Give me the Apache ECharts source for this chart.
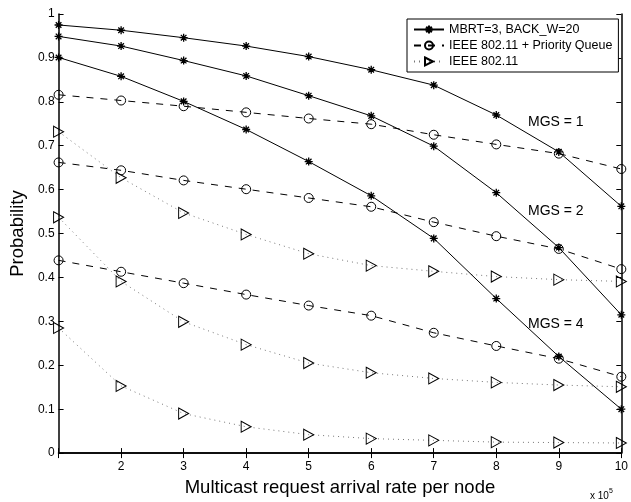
<!DOCTYPE html>
<html>
<head>
<meta charset="utf-8">
<script src="https://cdn.jsdelivr.net/npm/echarts@6/dist/echarts.min.js"></script>
<style>
  html, body { margin: 0; padding: 0; background: #fff; }
  #chart { width: 631px; height: 502px; }
</style>
</head>
<body>
<div id="chart"></div>
<script>
// Arrival rate (x 10^5)
const rates = [1, 2, 3, 4, 5, 6, 7, 8, 9, 10];

// MBRT=3, BACK_W=20
const mbrtMgs1 = [0.975, 0.963, 0.946, 0.927, 0.903, 0.873, 0.838, 0.770, 0.686, 0.562];
const mbrtMgs2 = [0.949, 0.927, 0.894, 0.859, 0.814, 0.768, 0.699, 0.593, 0.468, 0.315];
const mbrtMgs4 = [0.901, 0.858, 0.801, 0.737, 0.664, 0.586, 0.489, 0.352, 0.220, 0.100];

// IEEE 802.11 + Priority Queue
const pqMgs1 = [0.816, 0.803, 0.790, 0.776, 0.762, 0.749, 0.725, 0.703, 0.682, 0.647];
const pqMgs2 = [0.662, 0.644, 0.621, 0.601, 0.581, 0.561, 0.526, 0.494, 0.465, 0.419];
const pqMgs4 = [0.439, 0.413, 0.387, 0.361, 0.336, 0.313, 0.274, 0.244, 0.215, 0.174];

// IEEE 802.11
const dcfMgs1 = [0.732, 0.627, 0.547, 0.498, 0.454, 0.427, 0.414, 0.402, 0.395, 0.391];
const dcfMgs2 = [0.537, 0.391, 0.299, 0.247, 0.205, 0.183, 0.170, 0.161, 0.155, 0.151];
const dcfMgs4 = [0.285, 0.153, 0.090, 0.060, 0.042, 0.033, 0.029, 0.025, 0.024, 0.023];

const methodNames = ['MBRT=3, BACK_W=20', 'IEEE 802.11 + Priority Queue', 'IEEE 802.11'];
const groupLabels = ['MGS = 1', 'MGS = 2', 'MGS = 4'];

const FONT = 'Liberation Sans';

const asterisk = 'path://M5,0 L5,10 M0,5 L10,5 M1.5,1.5 L8.5,8.5 M8.5,1.5 L1.5,8.5';
const rightTri = 'path://M0,0 L10,5 L0,10 Z';

const pairs = arr => rates.map((r, i) => [r, arr[i]]);

function mbrtSeries(arr) {
  return {
    name: methodNames[0], type: 'line', data: pairs(arr),
    symbol: asterisk, symbolSize: 8, showAllSymbol: true,
    lineStyle: { color: '#000', width: 1, type: 'solid' },
    itemStyle: { color: 'none', borderColor: '#000', borderWidth: 1.3 },
    emphasis: { disabled: true }, z: 5
  };
}
function pqSeries(arr) {
  return {
    name: methodNames[1], type: 'line', data: pairs(arr),
    symbol: 'circle', symbolSize: 9,
    lineStyle: { color: '#000', width: 1, type: [7, 7] },
    itemStyle: { color: 'rgba(0,0,0,0)', borderColor: '#000', borderWidth: 1 },
    emphasis: { disabled: true }, z: 4
  };
}
function dcfSeries(arr) {
  return {
    name: methodNames[2], type: 'line', data: pairs(arr),
    symbol: rightTri, symbolSize: [10, 11],
    lineStyle: { color: '#777', width: 1, type: [1, 4] },
    itemStyle: { color: 'rgba(0,0,0,0)', borderColor: '#000', borderWidth: 1 },
    emphasis: { disabled: true }, z: 3
  };
}

const chart = echarts.init(document.getElementById('chart'), null, { renderer: 'canvas' });

const axisCommon = {
  axisLine: { show: true, lineStyle: { color: '#000', width: 1.5 } },
  axisTick: { show: true, inside: true, length: 5, lineStyle: { color: '#000', width: 1 } },
  splitLine: { show: false }
};

chart.setOption({
  animation: false,
  backgroundColor: '#fff',
  textStyle: { fontFamily: FONT },
  grid: { left: 53, right: 9, top: 14, bottom: 39, show: false },
  legend: {
    orient: 'vertical', left: 407, top: 19,
    padding: [4, 6, 4, 6], itemGap: 3, itemWidth: 30, itemHeight: 10,
    backgroundColor: '#fff', borderColor: '#000', borderWidth: 1, borderRadius: 0,
    textStyle: { fontFamily: FONT, fontSize: 12.5, color: '#000' },
    data: methodNames
  },
  xAxis: [
    Object.assign({
      type: 'value', min: 1, max: 10, interval: 1, position: 'bottom',
      name: 'Multicast request arrival rate per node', nameLocation: 'middle', nameGap: 21,
      nameTextStyle: { fontFamily: FONT, fontSize: 18.5, color: '#000' },
      axisLabel: {
        color: '#000', fontSize: 12, fontFamily: FONT, margin: 8,
        formatter: v => (v === 1 ? '' : String(v))
      }
    }, axisCommon),
    Object.assign({
      type: 'value', min: 1, max: 10, interval: 1, position: 'top',
      axisLabel: { show: false }
    }, axisCommon)
  ],
  yAxis: [
    Object.assign({
      type: 'value', min: 0, max: 1, interval: 0.1, position: 'left',
      name: 'Probability', nameLocation: 'middle', nameGap: 25,
      nameTextStyle: { fontFamily: FONT, fontSize: 18.5, color: '#000' },
      axisLabel: {
        color: '#000', fontSize: 12, fontFamily: FONT, margin: 4,
        formatter: v => (v === 0 ? '0' : v === 1 ? '1' : v.toFixed(1))
      }
    }, axisCommon),
    Object.assign({
      type: 'value', min: 0, max: 1, interval: 0.1, position: 'right',
      axisLabel: { show: false }
    }, axisCommon)
  ],
  graphic: [
    { type: 'text', left: 528, top: 115, style: { text: groupLabels[0], fontFamily: FONT, fontSize: 14, fill: '#000' } },
    { type: 'text', left: 528, top: 204, style: { text: groupLabels[1], fontFamily: FONT, fontSize: 14, fill: '#000' } },
    { type: 'text', left: 528, top: 317, style: { text: groupLabels[2], fontFamily: FONT, fontSize: 14, fill: '#000' } },
    {
      type: 'text', left: 590, top: 488,
      style: {
        text: '{a|x 10}{b|5}',
        rich: {
          a: { fontFamily: FONT, fontSize: 10, fill: '#000', verticalAlign: 'bottom' },
          b: { fontFamily: FONT, fontSize: 7, fill: '#000', verticalAlign: 'top', padding: [0, 0, 6, 0] }
        }
      }
    }
  ],
  series: [
    mbrtSeries(mbrtMgs1), mbrtSeries(mbrtMgs2), mbrtSeries(mbrtMgs4),
    pqSeries(pqMgs1), pqSeries(pqMgs2), pqSeries(pqMgs4),
    dcfSeries(dcfMgs1), dcfSeries(dcfMgs2), dcfSeries(dcfMgs4)
  ]
});
</script>
</body>
</html>
